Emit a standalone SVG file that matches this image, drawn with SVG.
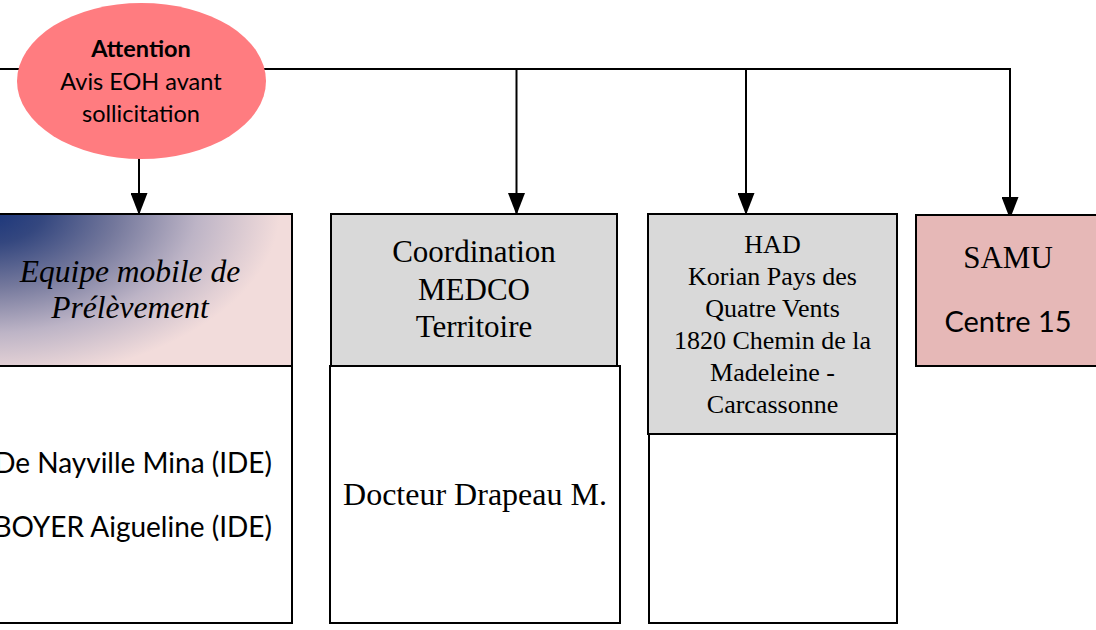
<svg xmlns="http://www.w3.org/2000/svg" width="1096" height="630" viewBox="0 0 1096 630">
  <defs>
    <style>
      .box { stroke: #000; stroke-width: 2; }
      .white { fill: #fff; }
      .gray { fill: #d9d9d9; }
      .samu { fill: #e6b8b7; }
      .serif { font-family: "Liberation Serif", "Times New Roman", serif; fill: #000; }
      .sans { font-family: Lato, "Liberation Sans", sans-serif; fill: #000; }
      .conn { stroke: #000; stroke-width: 2; fill: none; }
    </style>
    <marker id="arrow" markerWidth="22" markerHeight="17" refX="22" refY="8.5" orient="auto" markerUnits="userSpaceOnUse" viewBox="0 0 22 17">
      <path d="M0,0 L22,8.5 L0,17 Z" fill="#000"/>
    </marker>
    <radialGradient id="emp" gradientUnits="userSpaceOnUse" cx="-15" cy="210" r="295" fx="-15" fy="210" gradientTransform="translate(-15 210) scale(1 0.58) translate(15 -210)">
      <stop offset="0" stop-color="#17337a"/>
      <stop offset="0.2" stop-color="#34477f"/>
      <stop offset="0.45" stop-color="#74789c"/>
      <stop offset="0.72" stop-color="#bdb4c6"/>
      <stop offset="1" stop-color="#f2dcdb"/>
    </radialGradient>
  </defs>

  <g id="connectors">
    <line class="conn" x1="0" y1="69" x2="1011" y2="69"/>
    <line class="conn" x1="139" y1="158" x2="139" y2="215" marker-end="url(#arrow)"/>
    <line class="conn" x1="516.5" y1="69" x2="516.5" y2="215" marker-end="url(#arrow)"/>
    <line class="conn" x1="746" y1="69" x2="746" y2="215" marker-end="url(#arrow)"/>
    <line class="conn" x1="1010" y1="68" x2="1010" y2="219" marker-end="url(#arrow)"/>
  </g>

  <g id="attention">
    <ellipse cx="141.5" cy="81" rx="124.5" ry="78" fill="#ff7c80"/>
    <text class="sans" x="141" y="57" text-anchor="middle" font-size="23.5" font-weight="bold">Attention</text>
    <text class="sans" x="141" y="90" text-anchor="middle" font-size="23.5">Avis EOH avant</text>
    <text class="sans" x="141" y="122" text-anchor="middle" font-size="23.5">sollicitation</text>
  </g>

  <g id="equipe-mobile">
    <rect class="box" x="-40" y="214" width="332" height="152" fill="url(#emp)"/>
    <text class="serif" x="130" y="282" text-anchor="middle" font-size="31.5" font-style="italic">Equipe mobile de</text>
    <text class="serif" x="130" y="318" text-anchor="middle" font-size="31.5" font-style="italic">Prélèvement</text>
  </g>

  <g id="equipe-mobile-members">
    <rect class="box white" x="-40" y="366" width="332" height="257"/>
    <text class="sans" x="272" y="473" text-anchor="end" font-size="28">De Nayville Mina (IDE)</text>
    <text class="sans" x="272" y="537" text-anchor="end" font-size="28">BOYER Aigueline (IDE)</text>
  </g>

  <g id="coordination">
    <rect class="box gray" x="331" y="214" width="286" height="152"/>
    <text class="serif" x="474" y="262" text-anchor="middle" font-size="31">Coordination</text>
    <text class="serif" x="474" y="300" text-anchor="middle" font-size="31">MEDCO</text>
    <text class="serif" x="474" y="337" text-anchor="middle" font-size="31">Territoire</text>
  </g>

  <g id="coordination-members">
    <rect class="box white" x="330" y="366" width="290" height="257"/>
    <text class="serif" x="475" y="505" text-anchor="middle" font-size="32">Docteur Drapeau M.</text>
  </g>

  <g id="had">
    <rect class="box gray" x="648" y="214" width="249" height="220"/>
    <text class="serif" x="772.5" y="253" text-anchor="middle" font-size="26">HAD</text>
    <text class="serif" x="772.5" y="285" text-anchor="middle" font-size="26">Korian Pays des</text>
    <text class="serif" x="772.5" y="317" text-anchor="middle" font-size="26">Quatre Vents</text>
    <text class="serif" x="772.5" y="349" text-anchor="middle" font-size="26">1820 Chemin de la</text>
    <text class="serif" x="772.5" y="381" text-anchor="middle" font-size="26">Madeleine -</text>
    <text class="serif" x="772.5" y="413" text-anchor="middle" font-size="26">Carcassonne</text>
  </g>

  <g id="had-members">
    <rect class="box white" x="649" y="434" width="248" height="189"/>
  </g>

  <g id="samu">
    <rect class="box samu" x="916" y="215" width="190" height="151"/>
    <text class="serif" x="1008" y="268" text-anchor="middle" font-size="31">SAMU</text>
    <text class="sans" x="1008" y="332" text-anchor="middle" font-size="29">Centre 15</text>
  </g>
</svg>
